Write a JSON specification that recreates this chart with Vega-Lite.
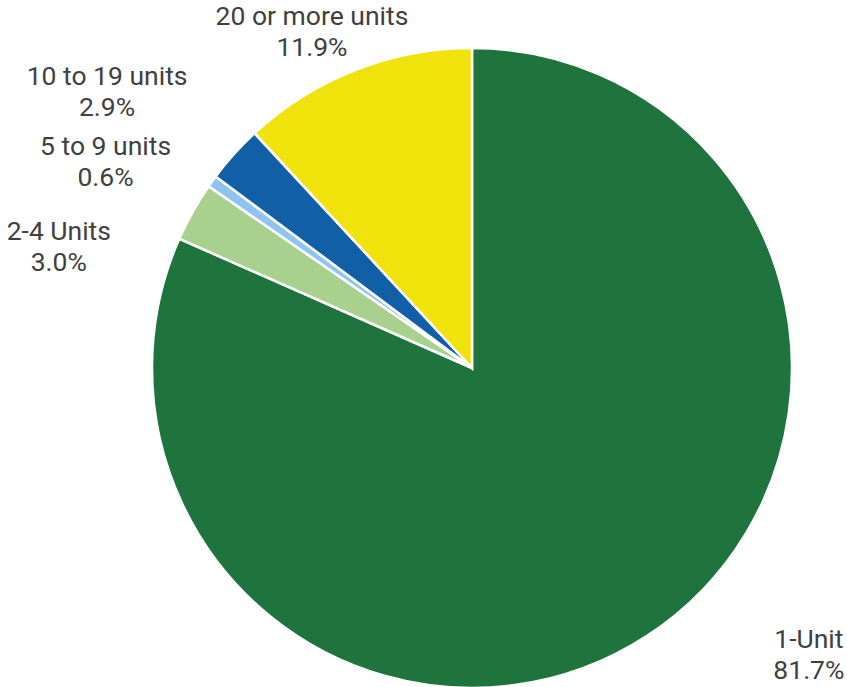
{
  "$schema": "https://vega.github.io/schema/vega-lite/v6.json",
  "width": 750,
  "height": 638,
  "autosize": {"type": "none"},
  "padding": {"left": 97, "top": 49, "right": 0, "bottom": 0},
  "background": "white",
  "config": {"view": {"stroke": null}, "font": "Roboto"},
  "data": {
    "values": [
      {"category": "1-Unit", "share": 81.7, "order": 1, "label": ["1-Unit", "81.7%"]},
      {"category": "2-4 Units", "share": 3.0, "order": 2, "label": ["2-4 Units", "3.0%"]},
      {"category": "5 to 9 units", "share": 0.6, "order": 3, "label": ["5 to 9 units", "0.6%"]},
      {"category": "10 to 19 units", "share": 2.9, "order": 4, "label": ["10 to 19 units", "2.9%"]},
      {"category": "20 or more units", "share": 11.9, "order": 5, "label": ["20 or more units", "11.9%"]}
    ]
  },
  "encoding": {
    "theta": {"field": "share", "type": "quantitative", "stack": true},
    "order": {"field": "order", "type": "quantitative"}
  },
  "layer": [
    {
      "mark": {"type": "arc", "outerRadius": 320, "stroke": "white", "strokeWidth": 2.5},
      "encoding": {
        "color": {
          "field": "category",
          "type": "nominal",
          "scale": {
            "domain": ["1-Unit", "2-4 Units", "5 to 9 units", "10 to 19 units", "20 or more units"],
            "range": ["#1f733c", "#a9d18e", "#8fc3f0", "#105fa7", "#f0e20b"]
          },
          "legend": null
        }
      }
    },
    {
      "mark": {"type": "text", "radius": 433, "thetaOffset": -0.314, "align": "center", "baseline": "middle", "fontSize": 26.5, "lineHeight": 31, "color": "#404040"},
      "encoding": {"text": {"condition": {"test": "datum.category === '1-Unit'", "field": "label"}, "value": ""}}
    },
    {
      "mark": {"type": "text", "radius": 435, "thetaOffset": -0.192, "align": "center", "baseline": "middle", "fontSize": 26.5, "lineHeight": 31, "color": "#404040"},
      "encoding": {"text": {"condition": {"test": "datum.category === '2-4 Units'", "field": "label"}, "value": ""}}
    },
    {
      "mark": {"type": "text", "radius": 428, "thetaOffset": -0.080, "align": "center", "baseline": "middle", "fontSize": 26.5, "lineHeight": 31, "color": "#404040"},
      "encoding": {"text": {"condition": {"test": "datum.category === '5 to 9 units'", "field": "label"}, "value": ""}}
    },
    {
      "mark": {"type": "text", "radius": 467, "thetaOffset": -0.059, "align": "center", "baseline": "middle", "fontSize": 26.5, "lineHeight": 31, "color": "#404040"},
      "encoding": {"text": {"condition": {"test": "datum.category === '10 to 19 units'", "field": "label"}, "value": ""}}
    },
    {
      "mark": {"type": "text", "radius": 386, "thetaOffset": -0.054, "align": "center", "baseline": "middle", "fontSize": 26.5, "lineHeight": 31, "color": "#404040"},
      "encoding": {"text": {"condition": {"test": "datum.category === '20 or more units'", "field": "label"}, "value": ""}}
    }
  ]
}
